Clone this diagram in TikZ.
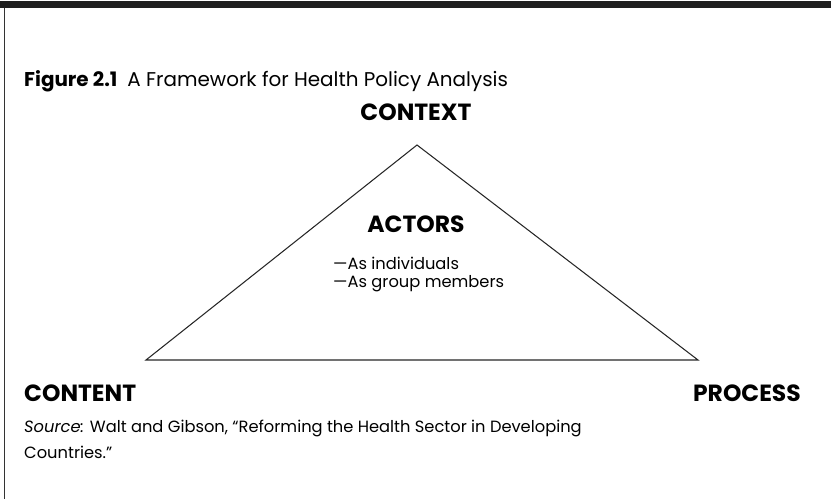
\documentclass[tikz,border=0pt]{standalone}
\usepackage{fontspec}
\setmainfont{Poppins}
\usetikzlibrary{positioning}

\begin{document}
\begin{tikzpicture}[
  x=0.03cm, y=-0.03cm,
  bodytext/.style={font=\fontsize{13.9}{17}\selectfont, inner sep=0pt},
  corner/.style={font=\fontsize{20}{22}\selectfont\bfseries, inner sep=0pt},
  edge/.style={line width=0.9pt, black!85, line join=miter}
]
\useasboundingbox (0,0) rectangle (831,499);

%% ── Frame: heavy rule on top, thin rule at left ─────────────────────
\fill[black!88] (0,1) rectangle (831,8);
\draw[line width=0.8pt, black!80] (4,8) -- (4,499);

%% ── Caption ─────────────────────────────────────────────────────────
\node[anchor=base west, inner sep=0pt, font=\fontsize{17}{20}\selectfont] (title) at (24,86)
  {\textbf{Figure 2.1}\enspace A Framework for Health Policy Analysis};

%% ── Triangle corners ────────────────────────────────────────────────
\coordinate (top)   at (417,145);
\coordinate (left)  at (146,360);
\coordinate (right) at (698,360);
\draw[edge] (top) -- (right) -- (left) -- cycle;

%% ── Labels ──────────────────────────────────────────────────────────
\node[corner] (context) at (416,112) {CONTEXT};
\node[corner, anchor=west]  (content) at (24,393)  {CONTENT};
\node[corner, anchor=east]  (process) at (801,393) {PROCESS};
\node[corner] (actors) at (416,224) {ACTORS};
\node[bodytext, anchor=west] (indiv) at (333,263) {---As individuals};
\node[bodytext, anchor=west] (group) at (333,284) {---As group members};

%% ── Source note ─────────────────────────────────────────────────────
\node[bodytext, anchor=west] (source) at (24,428)
  {\textit{Source:} Walt and Gibson, “Reforming the Health Sector in Developing};
\node[bodytext, anchor=west] (source2) at (24,452) {Countries.”};

\end{tikzpicture}
\end{document}
